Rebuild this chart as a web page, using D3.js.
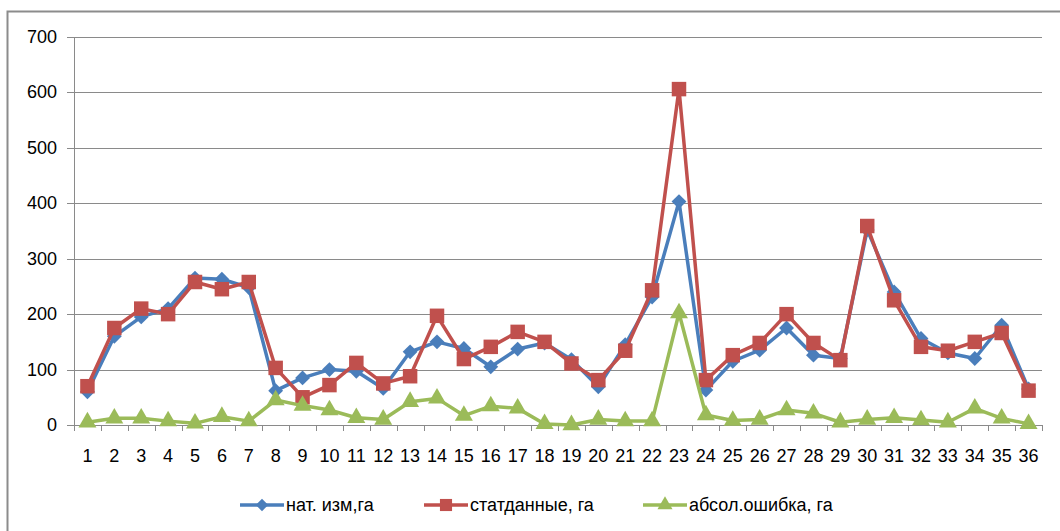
<!DOCTYPE html>
<html>
<head>
<meta charset="utf-8">
<script src="https://cdn.jsdelivr.net/npm/d3@7"></script>
<style>
  body { margin: 0; background: #fff; }
  svg { display: block; font-family: "Liberation Sans Narrow", "Arial Narrow", "Liberation Sans", sans-serif; }
</style>
</head>
<body>
<svg width="1060" height="531"></svg>
<script>
// categories 1..36
var categories = [1,2,3,4,5,6,7,8,9,10,11,12,13,14,15,16,17,18,19,20,21,22,23,24,25,26,27,28,29,30,31,32,33,34,35,36];

var natValues = [60,160,195,210,265,263,248,62,85,100,97,66,132,150,138,105,137,148,118,69,145,231,403,63,115,135,175,126,120,352,240,156,130,120,180,65];
var statValues = [70,175,210,200,258,245,258,103,50,72,112,75,88,197,119,141,168,150,111,81,134,243,606,81,126,148,200,148,117,359,225,141,134,150,166,62];
var errValues = [5,12,12,7,3,15,7,45,35,27,13,10,42,48,17,34,30,2,0,10,7,7,202,18,8,10,27,21,5,10,13,9,5,30,12,2];

var seriesNames = ['нат. изм,га', 'статданные, га', 'абсол.ошибка, га'];
var yTicks = [0,100,200,300,400,500,600,700];

var svg = d3.select('svg');
var margin = { left: 74, top: 37, right: 1042, bottom: 425 };

var x = d3.scaleBand().domain(categories).range([margin.left, margin.right]);
var y = d3.scaleLinear().domain([0, 700]).range([margin.bottom, margin.top]);

// outer chart border
svg.append('rect')
  .attr('x', 7.5).attr('y', 11.5)
  .attr('width', 1100).attr('height', 600)
  .attr('fill', 'none').attr('stroke', '#8c8c8c').attr('stroke-width', 2);

// gridlines
svg.append('g')
  .selectAll('line')
  .data(yTicks)
  .enter()
  .append('line')
  .attr('x1', margin.left - 7)
  .attr('x2', margin.right)
  .attr('y1', function(d) { return Math.round(y(d)) + 0.5; })
  .attr('y2', function(d) { return Math.round(y(d)) + 0.5; })
  .style('stroke', '#8a8a8a');

// y axis line
svg.append('line')
  .attr('x1', margin.left + 0.5).attr('x2', margin.left + 0.5)
  .attr('y1', margin.top).attr('y2', margin.bottom)
  .style('stroke', '#8a8a8a');

// y labels
svg.append('g')
  .selectAll('text')
  .data(yTicks)
  .enter()
  .append('text')
  .attr('x', 57)
  .attr('y', function(d) { return y(d) + 6; })
  .attr('text-anchor', 'end')
  .style('font-size', '18px')
  .style('fill', '#000')
  .text(function(d) { return d; });

// x tick marks at category boundaries
var bounds = categories.map(function(c) { return x(c); }).concat([margin.right]);
svg.append('g')
  .selectAll('line')
  .data(bounds)
  .enter()
  .append('line')
  .attr('x1', function(d) { return Math.round(d) + 0.5; })
  .attr('x2', function(d) { return Math.round(d) + 0.5; })
  .attr('y1', margin.bottom)
  .attr('y2', margin.bottom + 6)
  .style('stroke', '#8a8a8a');

// x labels
svg.append('g')
  .selectAll('text')
  .data(categories)
  .enter()
  .append('text')
  .attr('x', function(d) { return x(d) + x.bandwidth() / 2; })
  .attr('y', 462)
  .attr('text-anchor', 'middle')
  .style('font-size', '18px')
  .style('fill', '#000')
  .text(function(d) { return d; });

var cx = function(d, i) { return x(categories[i]) + x.bandwidth() / 2; };

// diamond = square turned 45deg (excel style, not the tall d3 diamond)
var series = [
  { name: seriesNames[0], values: natValues, color: '#4a7ebb', marker: d3.symbolSquare, size: 110, rot: 45 },
  { name: seriesNames[1], values: statValues, color: '#c0504d', marker: d3.symbolSquare, size: 210, rot: 0 },
  { name: seriesNames[2], values: errValues, color: '#9bbb59', marker: d3.symbolTriangle, size: 140, rot: 0 }
];

var line = d3.line()
  .x(cx)
  .y(function(d) { return y(d); });

series.forEach(function(s) {
  var g = svg.append('g');
  g.append('path')
    .datum(s.values)
    .attr('d', line)
    .attr('fill', 'none')
    .attr('stroke', s.color)
    .attr('stroke-width', 3.5)
    .attr('stroke-linejoin', 'round');
  g.selectAll('path.m')
    .data(s.values)
    .enter()
    .append('path')
    .attr('class', 'm')
    .attr('transform', function(d, i) { return 'translate(' + cx(d, i) + ',' + y(d) + ') rotate(' + s.rot + ')'; })
    .attr('d', d3.symbol().type(s.marker).size(s.size))
    .attr('fill', s.color);
});

// legend
var legendX = [240, 424, 643];
var legend = svg.append('g')
  .selectAll('g')
  .data(series)
  .enter()
  .append('g')
  .attr('transform', function(d, i) { return 'translate(' + legendX[i] + ',505)'; });

legend.append('line')
  .attr('x1', 0).attr('x2', 44)
  .attr('stroke', function(d) { return d.color; })
  .attr('stroke-width', 3.5);
legend.append('path')
  .attr('transform', function(d) { return 'translate(22,0) rotate(' + d.rot + ')'; })
  .attr('d', function(d) { return d3.symbol().type(d.marker).size(d.size * 0.7)(); })
  .attr('fill', function(d) { return d.color; });
legend.append('text')
  .attr('x', 46)
  .attr('y', 6)
  .style('font-size', '18px')
  .style('fill', '#000')
  .text(function(d) { return d.name; });
</script>
</body>
</html>
